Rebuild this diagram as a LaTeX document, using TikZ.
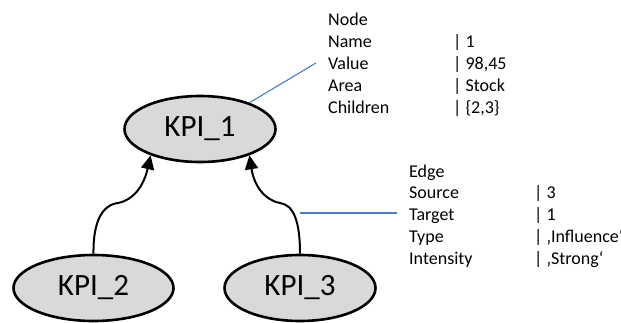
\documentclass[tikz,border=0pt]{standalone}
\usepackage{fontspec}
\setmainfont{Carlito}
\usetikzlibrary{shapes.geometric,arrows.meta}
\definecolor{kpifill}{HTML}{D9D9D9}
\definecolor{callout}{HTML}{4A7EBB}
\begin{document}
\begin{tikzpicture}[x=1pt,y=-1pt,
  kpi/.style={ellipse,draw=black,line width=2.6pt,fill=kpifill,inner sep=0pt,
    minimum width=151pt,minimum height=66pt,font=\fontsize{31}{36}\selectfont},
  link/.style={line width=2pt,-{Triangle[length=14pt,width=13pt]}},
  leader/.style={draw=callout,line width=1.1pt},
  tab/.style={anchor=base west,inner sep=0pt,font=\fontsize{18}{22}\selectfont,text=black}]
\useasboundingbox (0,0) rectangle (621,322);
\node[kpi] (k1) at (200,129) {KPI\_1};
\node[kpi,minimum width=160pt] (k2) at (93.5,288) {KPI\_2};
\node[kpi] (k3) at (300,288) {KPI\_3};
\draw[link] (k2.north) .. controls (93,222) and (102,205) .. (118,203)
  .. controls (134,200) and (144,185) .. (k1.-152);
\draw[link] (k3.north) .. controls (300,222) and (294,205) .. (280,203)
  .. controls (264,200) and (254,185) .. (k1.-28);
% node table
\coordinate (nl) at (316,63);
\draw[leader] (k1.28) -- (nl);
\node[tab] (n0) at (328,25) {Node};
\node[tab] (n1) at (328,47) {Name};
\node[tab] (n2) at (328,69) {Value};
\node[tab] (n3) at (328,91) {Area};
\node[tab] (n4) at (328,113) {Children};
\node[tab] (v1) at (453,47) {| 1};
\node[tab] (v2) at (453,69) {| 98,45};
\node[tab] (v3) at (453,91) {| Stock};
\node[tab] (v4) at (453,113) {| \{2,3\}};
% edge table
\coordinate (ea) at (300,213);
\coordinate (eb) at (397,213);
\draw[leader] (ea) -- (eb);
\node[tab] (e0) at (409,177) {Edge};
\node[tab] (e1) at (409,198) {Source};
\node[tab] (e2) at (409,220) {Target};
\node[tab] (e3) at (409,242) {Type};
\node[tab] (e4) at (409,264) {Intensity};
\node[tab] (w1) at (534,198) {| 3};
\node[tab] (w2) at (534,220) {| 1};
\node[tab] (w3) at (534,242) {| ‚Influence‘};
\node[tab] (w4) at (534,264) {| ‚Strong‘};
\end{tikzpicture}
\end{document}
